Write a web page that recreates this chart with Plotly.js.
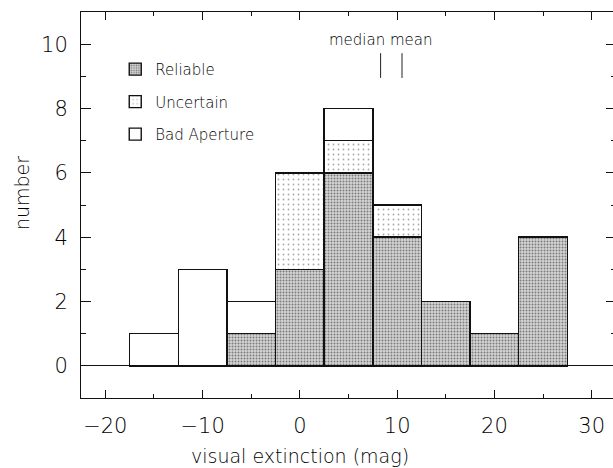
<!DOCTYPE html>
<html>
<head>
<meta charset="utf-8">
<script src="https://cdn.plot.ly/plotly-3.0.1.min.js"></script>
<style>
  html, body { margin: 0; padding: 0; overflow: hidden; background: #fff; }
  #chart { width: 616px; height: 468px; }
</style>
</head>
<body>
<div id="chart"></div>
<script>
// Histogram of visual extinction, 5 mag bins, stacked by photometry quality
const binCenters  = [-15, -10, -5, 0, 5, 10, 15, 20, 25];
const reliable    = [0, 0, 1, 3, 6, 4, 2, 1, 4];
const uncertain   = [0, 0, 0, 3, 1, 1, 0, 0, 0];
const badAperture = [1, 3, 1, 0, 1, 0, 0, 0, 0];
const binWidth = 5;

// Summary statistics (mag) and the extent of their marker ticks (number)
const statNames  = ['median', 'mean'];
const statValues = [8.3, 10.5];
const statTickY  = [8.95, 9.72];

const FONT = 'DejaVu Sans';
const W = 200;
const INK = '#000';
const outline = { color: '#111', width: 1.4 };

function barTrace(name, values, fill, group) {
  return {
    type: 'bar',
    name: name,
    x: binCenters,
    y: values,
    width: binWidth,
    legendgroup: group,
    marker: { color: fill.bg, line: outline, pattern: fill.pattern },
    hoverinfo: 'x+y+name'
  };
}

const traces = [
  barTrace('Reliable', reliable, {
    bg: '#cfcfcf',
    pattern: { shape: '.', bgcolor: '#d6d6d6', fgcolor: '#7a7a7a', size: 3, solidity: 0.35 }
  }, 'g1'),
  barTrace('Uncertain', uncertain, {
    bg: '#f4f4f4',
    pattern: { shape: '.', bgcolor: '#ffffff', fgcolor: '#a8a8a8', size: 5, solidity: 0.1 }
  }, 'g2'),
  barTrace('Bad Aperture', badAperture, { bg: '#ffffff' }, 'g3')
];

// median / mean tick marks
const sx = [], sy = [];
statValues.forEach(function (v) { sx.push(v, v, null); sy.push(statTickY[0], statTickY[1], null); });
traces.push({
  type: 'scatter', mode: 'lines', x: sx, y: sy,
  line: { color: '#222', width: 1 }, showlegend: false, hoverinfo: 'skip'
});

function font(size) { return { family: FONT, size: size, color: INK, weight: W }; }

const layout = {
  width: 616, height: 468,
  margin: { l: 81, r: 0, t: 12, b: 70, pad: 0 },
  paper_bgcolor: '#fff', plot_bgcolor: '#fff',
  barmode: 'stack', bargap: 0,
  font: font(15),
  showlegend: true,
  legend: {
    x: 0.064, y: 0.894, xanchor: 'left', yanchor: 'top',
    traceorder: 'grouped', tracegroupgap: 10,
    bgcolor: 'rgba(0,0,0,0)', font: font(15),
    itemwidth: 30
  },
  xaxis: {
    range: [-22.5, 32.5], tickvals: [-20, -10, 0, 10, 20, 30],
    ticktext: ['\u221220', '\u221210', '0', '10', '20', '30'],
    ticks: 'inside', ticklen: 8, tickwidth: 1, tickcolor: '#111',
    minor: { dtick: 5, tick0: 0, ticks: 'inside', ticklen: 4, tickcolor: '#111', showgrid: false },
    showline: true, linecolor: '#111', linewidth: 1, mirror: 'ticks',
    showgrid: false, zeroline: false,
    tickfont: font(21),
    ticklabelstandoff: 9,
    fixedrange: true
  },
  yaxis: {
    range: [-1, 11], tickvals: [0, 2, 4, 6, 8, 10],
    ticks: 'inside', ticklen: 10, tickwidth: 1, tickcolor: '#111',
    minor: { dtick: 1, tick0: 0, ticks: 'inside', ticklen: 5, tickcolor: '#111', showgrid: false },
    showline: true, linecolor: '#111', linewidth: 1, mirror: 'ticks',
    showgrid: false, zeroline: true, zerolinecolor: '#111', zerolinewidth: 1,
    tickfont: font(21),
    ticklabelstandoff: 8,
    fixedrange: true
  },
  annotations: [
    {
      text: 'visual extinction (mag)', xref: 'x', yref: 'paper', x: 0, y: 0,
      xanchor: 'center', yanchor: 'middle', yshift: -58, showarrow: false,
      font: font(19)
    },
    {
      text: 'number', xref: 'paper', yref: 'paper', x: 0, y: 0.531,
      xanchor: 'center', yanchor: 'middle', xshift: -59, textangle: -90, showarrow: false,
      font: font(19)
    },
    {
      text: statNames.join(' '), xref: 'x', yref: 'y', x: statValues[0], y: statTickY[1],
      xanchor: 'center', yanchor: 'bottom', yshift: 2, showarrow: false,
      font: font(15)
    }
  ]
};

Plotly.newPlot('chart', traces, layout, { displayModeBar: false, staticPlot: true });
</script>
</body>
</html>
